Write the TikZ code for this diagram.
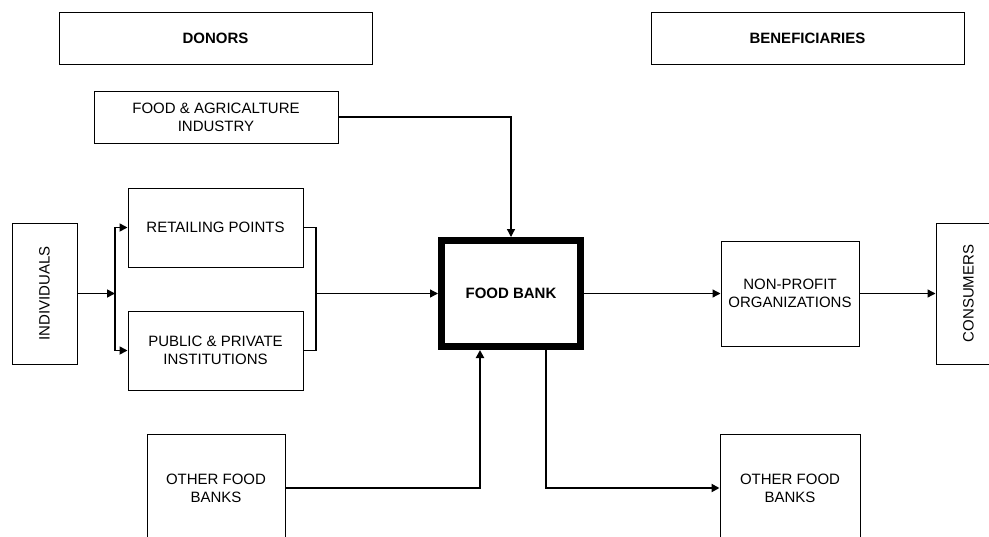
\documentclass[tikz,border=0pt]{standalone}
\usepackage{fontspec}
\usepackage{graphicx}
\setmainfont{Liberation Sans}
\usetikzlibrary{arrows.meta,calc}
\tikzset{
  box/.style 2 args={draw=black, line width=0.75pt, inner sep=0pt, align=center,
    minimum width={#1*0.75pt}, minimum height={#2*0.75pt},
    font=\fontsize{11.25}{13.5}\selectfont},
  bbox/.style 2 args={box={#1}{#2}, font=\fontsize{11.25}{13.5}\selectfont\bfseries},
  conn/.style={line width=1pt, -{Triangle[length=6pt,width=6pt]}},
  plainconn/.style={line width=1pt},
  splitconn/.style={line width=1.25pt},
  thickconn/.style={line width=1.7pt, -{Triangle[length=6pt,width=6pt]}}
}
\begin{document}
\begin{tikzpicture}[x=0.75pt,y=-0.75pt]
\useasboundingbox (0,0) rectangle (989,536);
\clip (0,0) rectangle (989,536);
\fill[white] (0,0) rectangle (989,536);
% headers
\node[bbox={313}{52}] (donors) at (215.5,38) {DONORS};
\node[bbox={313}{52}] (benef) at (807.5,38) {BENEFICIARIES};
% donors
\node[box={244}{52}] (fai) at (216,117) {FOOD \& AGRICALTURE\\INDUSTRY};
\node[box={65}{141}] (indiv) at (44.5,293.5) {\rotatebox{90}{INDIVIDUALS}};
\node[box={175}{79}] (retail) at (215.5,227.5) {RETAILING POINTS};
\node[box={175}{79}] (public) at (215.5,350.5) {PUBLIC \& PRIVATE\\INSTITUTIONS};
\node[box={138}{108}] (ofb1) at (216,488) {OTHER FOOD\\BANKS};
% food bank
\node[bbox={139}{106}, line width=5.25pt] (fb) at (511,293.5) {FOOD BANK};
% beneficiaries
\node[box={138}{105}] (npo) at (790,293.5) {NON-PROFIT\\ORGANIZATIONS};
\node[box={65}{141}] (cons) at (968.5,293.5) {\rotatebox{90}{CONSUMERS}};
\node[box={140}{108}] (ofb2) at (790,488) {OTHER FOOD\\BANKS};
% coordinates
\coordinate (split) at (115,293.5);
\coordinate (merge) at (316,293.5);
% connectors
\draw[conn] (fai.east) -| (fb.north);
\draw[conn, line width=1.25pt] (indiv.east) -- (split);
\draw[splitconn, -{Triangle[length=6pt,width=6pt]}] (split) |- (retail.west);
\draw[splitconn, -{Triangle[length=6pt,width=6pt]}] (split) |- (public.west);
\draw[splitconn] (retail.east) -| (merge) |- (public.east);
\draw[conn] (merge) -- (fb.west);
\draw[conn] (fb.east) -- (npo.west);
\draw[conn] (npo.east) -- (cons.west);
\draw[thickconn] (ofb1.east) -| ($(fb.south)+(-31,0)$);
\draw[thickconn] ($(fb.south)+(35,0)$) |- (ofb2.west);
\end{tikzpicture}
\end{document}
